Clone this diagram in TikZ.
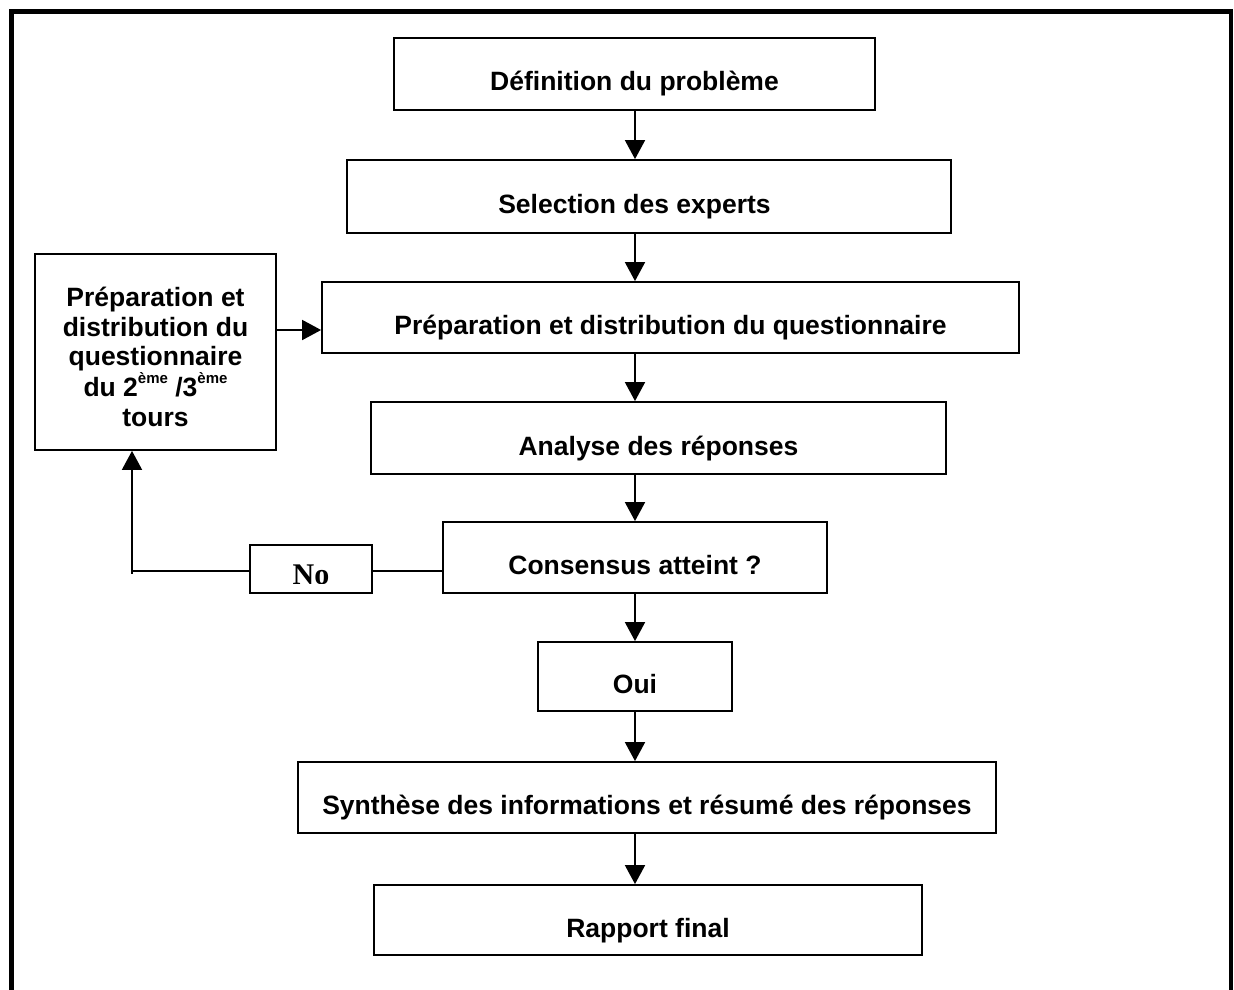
\documentclass[tikz,border=0pt]{standalone}
\usepackage{fontspec}
\setmainfont{Liberation Sans}
\newfontfamily\serifb{Liberation Serif}
\usetikzlibrary{arrows.meta}
\newcommand{\supx}[1]{\raisebox{0.5em}{\fontsize{15}{15}\selectfont #1}}
\begin{document}
\begin{tikzpicture}[x=1pt,y=-1pt,
 box/.style={draw, line width=1.8pt, rectangle, inner sep=0pt},
 lbl/.style={font=\bfseries\fontsize{26.5}{29.5}\selectfont, inner sep=0pt, anchor=base},
 arr/.style={line width=1.8pt, -{Triangle[length=19pt,width=20pt]}},
 con/.style={line width=1.8pt}]
\useasboundingbox (0,0) rectangle (1234,990);
\fill[white] (0,0) rectangle (1234,990);
% outer frame (open at the bottom)
\draw[line width=5pt] (11.5,995) -- (11.5,11.5) -- (1233,11.5);
\draw[line width=3.5pt] (1231,9) -- (1231,995);

% boxes
\node[box, minimum width=481pt, minimum height=72pt] (b1) at (634.5,74) {};
\node[box, minimum width=604pt, minimum height=73pt] (b2) at (649,196.5) {};
\node[box, minimum width=697pt, minimum height=71pt] (b3) at (670.5,317.5) {};
\node[box, minimum width=575pt, minimum height=72pt] (b4) at (658.5,438) {};
\node[box, minimum width=384pt, minimum height=71pt] (b5) at (635,557.5) {};
\node[box, minimum width=194pt, minimum height=69pt] (b6) at (635,676.5) {};
\node[box, minimum width=698pt, minimum height=71pt] (b7) at (647,797.5) {};
\node[box, minimum width=548pt, minimum height=70pt] (b8) at (648,920) {};
\node[box, minimum width=241pt, minimum height=196pt] (lb) at (155.5,352) {};
\node[box, minimum width=122pt, minimum height=48pt] (nob) at (311,569) {};

% texts
\node[lbl] (t1) at (634.5,91) {Définition du problème};
\node[lbl] (t2) at (634.5,213.5) {Selection des experts};
\node[lbl] (t3) at (670.5,334.5) {Préparation et distribution du questionnaire};
\node[lbl] (t4) at (658.5,455) {Analyse des réponses};
\node[lbl] (t5) at (635,574) {Consensus atteint ?};
\node[lbl] (t6) at (635,693) {Oui};
\node[lbl] (t7) at (647,814.5) {Synthèse des informations et résumé des réponses};
\node[lbl] (t8) at (648,937) {Rapport final};
\node[font=\bfseries\fontsize{26.5}{29.5}\selectfont, inner sep=0pt, align=center, anchor=center] (tl) at (155.5,357)
 {Préparation et\\distribution du\\questionnaire\\du 2\supx{ème} /3\supx{ème}\\tours};
\begin{scope}
\clip (250,545) rectangle (372,583);
\node[font=\serifb\bfseries\fontsize{30}{30}\selectfont, inner sep=0pt, anchor=base] (tno) at (311,584) {No};
\end{scope}

% connectors
\coordinate (ax) at (635,0);
\draw[arr] (b1.south -| ax) -- (b2.north -| ax);
\draw[arr] (b2.south -| ax) -- (b3.north -| ax);
\draw[arr] (b3.south -| ax) -- (b4.north -| ax);
\draw[arr] (b4.south -| ax) -- (b5.north -| ax);
\draw[arr] (b5.south -| ax) -- (b6.north -| ax);
\draw[arr] (b6.south -| ax) -- (b7.north -| ax);
\draw[arr] (b7.south -| ax) -- (b8.north -| ax);
\coordinate (ya) at (0,330);
\draw[arr] (lb.east |- ya) -- (b3.west |- ya);
\coordinate (lp) at (132,571);
\draw[con] (b5.west |- lp) -- (nob.east |- lp);
\draw[arr] (nob.west |- lp) -- (lp) -- (lb.south -| lp);
\draw[con] (lp) -- ++(0,3);
\end{tikzpicture}
\end{document}
